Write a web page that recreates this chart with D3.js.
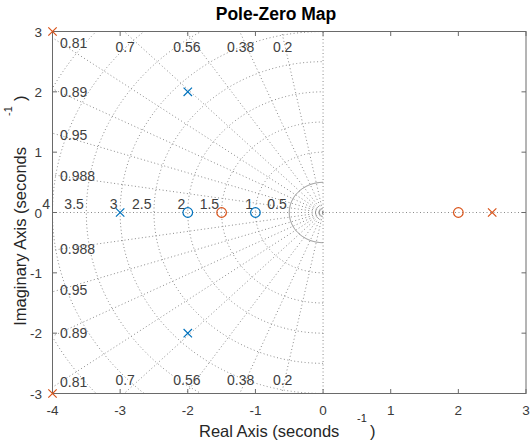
<!DOCTYPE html>
<html>
<head>
    <script src="https://d3js.org/d3.v7.min.js"></script>
    <style>
        body { margin: 0; background: #fff; }
        text { font-family: "Liberation Sans", Arial, Helvetica, sans-serif; }
    </style>
</head>
<body>

<script>
// poles and zeros, [real, imag]
const zerosBlue = [[-2, 0], [-1, 0]];
const polesBlue = [[-3, 0], [-2, 2], [-2, -2]];
const zerosOrange = [[-1.5, 0], [2, 0]];
const polesOrange = [[2.5, 0], [-4, 3], [-4, -3]];

// sgrid values
const dampings = [0.2, 0.38, 0.56, 0.7, 0.81, 0.89, 0.95, 0.988];
const frequencies = [0.5, 1, 1.5, 2, 2.5, 3, 3.5, 4, 4.5, 5];

const xTicks = [-4, -3, -2, -1, 0, 1, 2, 3];
const yTicks = [-3, -2, -1, 0, 1, 2, 3];

const width = 531, height = 444;
const plot = { left: 52.5, right: 526, top: 31.5, bottom: 393.5 };

const svg = d3.select('body')
    .append('svg')
    .attr('width', width)
    .attr('height', height);

const x = d3.scaleLinear().domain([-4, 3]).range([plot.left, plot.right]);
const y = d3.scaleLinear().domain([-3, 3]).range([plot.bottom, plot.top]);

svg.append('clipPath').attr('id', 'clip')
    .append('rect')
    .attr('x', plot.left).attr('y', plot.top)
    .attr('width', plot.right - plot.left)
    .attr('height', plot.bottom - plot.top);

const grid = svg.append('g').attr('clip-path', 'url(#clip)');
const gridColor = '#8a8a8a';
const dots = '1,2.5';
const line = d3.line().x(d => x(d[0])).y(d => y(d[1]));

// zero lines
grid.append('line')
    .attr('x1', x(-4)).attr('x2', x(3)).attr('y1', y(0)).attr('y2', y(0))
    .attr('stroke', gridColor).attr('stroke-dasharray', dots);
grid.append('line')
    .attr('x1', x(0)).attr('x2', x(0)).attr('y1', y(-3)).attr('y2', y(3))
    .attr('stroke', gridColor).attr('stroke-dasharray', dots);

// damping rays from the origin
dampings.forEach(z => {
    const s = Math.sqrt(1 - z * z);
    [1, -1].forEach(sign => {
        grid.append('path')
            .attr('d', line([[0, 0], [-10 * z, sign * 10 * s]]))
            .attr('fill', 'none')
            .attr('stroke', gridColor)
            .attr('stroke-dasharray', dots);
    });
});

// natural frequency half circles
frequencies.forEach(wn => {
    const pts = d3.range(0, 181).map(i => {
        const t = -Math.PI / 2 + i * Math.PI / 180;
        return [-wn * Math.cos(t), wn * Math.sin(t)];
    });
    grid.append('path')
        .attr('d', line(pts))
        .attr('fill', 'none')
        .attr('stroke', gridColor)
        .attr('stroke-dasharray', wn === 0.5 ? null : dots);
});

// grid labels
const labelColor = '#404040';
const labels = svg.append('g')
    .attr('font-size', 14)
    .attr('fill', labelColor);

dampings.forEach(z => {
    const s = Math.sqrt(1 - z * z);
    const xTop = -3 * z / s;
    if (xTop >= -4) {
        labels.append('text').attr('x', x(xTop) + 1).attr('y', plot.top + 20.5)
            .attr('text-anchor', 'middle').text(z);
        labels.append('text').attr('x', x(xTop) + 1).attr('y', plot.bottom - 8.5)
            .attr('text-anchor', 'middle').text(z);
    } else {
        const xd = x.invert(plot.left + 7.5);
        const yd = -xd * s / z;
        labels.append('text').attr('x', plot.left + 7.5).attr('y', y(yd) + 5)
            .text(z);
        labels.append('text').attr('x', plot.left + 7.5).attr('y', y(-yd) + 5)
            .text(z);
    }
});

frequencies.filter(wn => wn <= 4).forEach(wn => {
    labels.append('text')
        .attr('x', x(-wn) - 2.5)
        .attr('y', y(0) - 3.5)
        .attr('text-anchor', 'end')
        .text(wn);
});

// axes box and inward ticks
const axisColor = '#6a6a6a';
svg.append('rect')
    .attr('x', plot.left).attr('y', plot.top)
    .attr('width', plot.right - plot.left)
    .attr('height', plot.bottom - plot.top)
    .attr('fill', 'none').attr('stroke', axisColor);

const tickLen = 4.5;
xTicks.forEach(t => {
    svg.append('line').attr('x1', x(t)).attr('x2', x(t))
        .attr('y1', plot.bottom).attr('y2', plot.bottom - tickLen).attr('stroke', axisColor);
    svg.append('line').attr('x1', x(t)).attr('x2', x(t))
        .attr('y1', plot.top).attr('y2', plot.top + tickLen).attr('stroke', axisColor);
    svg.append('text').attr('x', x(t)).attr('y', plot.bottom + 21.5)
        .attr('text-anchor', 'middle').attr('font-size', 13.5).attr('fill', '#3a3a3a')
        .text(t);
});
yTicks.forEach(t => {
    svg.append('line').attr('x1', plot.left).attr('x2', plot.left + tickLen)
        .attr('y1', y(t)).attr('y2', y(t)).attr('stroke', axisColor);
    svg.append('line').attr('x1', plot.right).attr('x2', plot.right - tickLen)
        .attr('y1', y(t)).attr('y2', y(t)).attr('stroke', axisColor);
    svg.append('text').attr('x', plot.left - 10.5).attr('y', y(t) + 5)
        .attr('text-anchor', 'end').attr('font-size', 13.5).attr('fill', '#3a3a3a')
        .text(t);
});

// markers
function drawZeros(data, color) {
    svg.selectAll(null).data(data).enter().append('circle')
        .attr('cx', d => x(d[0])).attr('cy', d => y(d[1])).attr('r', 4.8)
        .attr('fill', 'none').attr('stroke', color).attr('stroke-width', 1.2);
}
function drawPoles(data, color) {
    const h = 4.2;
    svg.selectAll(null).data(data).enter().append('path')
        .attr('d', d => {
            const cx = x(d[0]), cy = y(d[1]);
            return `M${cx - h},${cy - h}L${cx + h},${cy + h}M${cx - h},${cy + h}L${cx + h},${cy - h}`;
        })
        .attr('stroke', color).attr('stroke-width', 1.2);
}
const blue = '#0072BD', orange = '#D95319';
drawZeros(zerosBlue, blue);
drawPoles(polesBlue, blue);
drawZeros(zerosOrange, orange);
drawPoles(polesOrange, orange);

// title and axis labels
svg.append('text')
    .attr('x', 276).attr('y', 20)
    .attr('text-anchor', 'middle')
    .attr('font-size', 17.5).attr('font-weight', 'bold')
    .text('Pole-Zero Map');

const xl = svg.append('g').attr('fill', '#262626').attr('font-size', 16.5);
xl.append('text').attr('x', 199).attr('y', 437).text('Real Axis (seconds');
xl.append('text').attr('x', 357).attr('y', 422).attr('font-size', 11).text('-1');
xl.append('text').attr('x', 370).attr('y', 437).text(')');

const yl = svg.append('g').attr('fill', '#262626').attr('font-size', 16.5)
    .attr('transform', 'rotate(-90)');
yl.append('text').attr('x', -147).attr('y', 26).attr('text-anchor', 'end')
    .text('Imaginary Axis (seconds');
yl.append('text').attr('x', -116).attr('y', 12).attr('font-size', 11).text('-1');
yl.append('text').attr('x', -101).attr('y', 26).text(')');
</script>

</body>
</html>
